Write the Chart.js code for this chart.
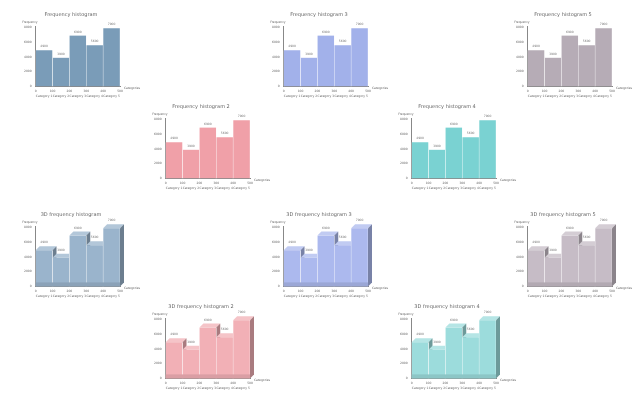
<!DOCTYPE html>
<html>
<head>
<meta charset="utf-8">
<script src="https://cdn.jsdelivr.net/npm/chart.js@4"></script>
<style>
  body { margin: 0; background: #fff; width: 640px; height: 405px; position: relative; overflow: hidden; }
  .box { position: absolute; width: 140px; height: 98px; }
</style>
</head>
<body>
<script>
// 数据
const categories = ['Category 1', 'Category 2', 'Category 3', 'Category 4', 'Category 5'];
const values = [4900, 3900, 6900, 5600, 7900];
const edgeLabels = ['0', '100', '200', '300', '400', '500'];
const yTicks = [0, 2000, 4000, 6000, 8000];

const charts = [
  { title: 'Frequency histogram', color: '#7a9cb8', x: 2, y: 8, d3: false },
  { title: 'Frequency histogram 3', color: '#a2b1ea', x: 250, y: 8, d3: false },
  { title: 'Frequency histogram 5', color: '#b6acb6', x: 494, y: 8, d3: false },
  { title: 'Frequency histogram 2', color: '#f0a0a8', x: 132, y: 100, d3: false },
  { title: 'Frequency histogram 4', color: '#7ad2d2', x: 378, y: 100, d3: false },
  { title: '3D frequency histogram', color: '#9ab4cc', x: 2, y: 208, d3: true },
  { title: '3D frequency histogram 3', color: '#acb9ee', x: 250, y: 208, d3: true },
  { title: '3D frequency histogram 5', color: '#c6bcc6', x: 494, y: 208, d3: true },
  { title: '3D frequency histogram 2', color: '#f2b0b6', x: 132, y: 300, d3: true },
  { title: '3D frequency histogram 4', color: '#9cdcdc', x: 378, y: 300, d3: true }
];

function shade(hex, f) {
  const n = parseInt(hex.slice(1), 16);
  let r = n >> 16, g = (n >> 8) & 255, b = n & 255;
  const m = v => Math.max(0, Math.min(255, Math.round(f < 0 ? v * (1 + f) : v + (255 - v) * f)));
  return `rgb(${m(r)},${m(g)},${m(b)})`;
}

// 坐标轴标题、边界数字、数值标签、3D 面
const decor = {
  id: 'decor',
  beforeDatasetsDraw(chart, args, opts) {
    if (!opts.d3) return;
    const ctx = chart.ctx;
    const meta = chart.getDatasetMeta(0);
    const dx = 4, dy = 4;
    ctx.save();
    meta.data.forEach(bar => {
      const l = bar.x - bar.width / 2, r = bar.x + bar.width / 2;
      ctx.fillStyle = shade(opts.color, 0.25);
      ctx.beginPath();
      ctx.moveTo(l, bar.y); ctx.lineTo(l + dx, bar.y - dy); ctx.lineTo(r + dx, bar.y - dy); ctx.lineTo(r, bar.y);
      ctx.fill();
      ctx.fillStyle = shade(opts.color, -0.3);
      ctx.beginPath();
      ctx.moveTo(r, bar.y); ctx.lineTo(r + dx, bar.y - dy); ctx.lineTo(r + dx, bar.base - dy); ctx.lineTo(r, bar.base);
      ctx.fill();
    });
    ctx.restore();
  },
  afterDatasetsDraw(chart, args, opts) {
    const ctx = chart.ctx;
    const meta = chart.getDatasetMeta(0);
    const a = chart.chartArea;
    ctx.save();
    ctx.font = '3px "DejaVu Sans"';
    ctx.fillStyle = '#777';
    ctx.textAlign = 'center';
    meta.data.forEach((bar, i) => {
      ctx.fillText(values[i], bar.x, bar.y - (opts.d3 ? 7 : 3));
    });
    if (opts.d3) {
      ctx.fillStyle = shade(opts.color, -0.1);
      ctx.fillRect(a.left, a.bottom - 4, a.right - a.left, 4);
    }
    ctx.fillStyle = '#666';
    const n = edgeLabels.length;
    edgeLabels.forEach((t, i) => {
      ctx.fillText(t, a.left + (a.right - a.left) * i / (n - 1), a.bottom + 6);
    });
    ctx.textAlign = 'left';
    ctx.fillText('Categories', a.right + 4, a.bottom + 3);
    ctx.textAlign = 'right';
    ctx.fillText('Frequency', a.left + 2, a.top - 3);
    ctx.restore();
  }
};

charts.forEach(c => {
  const div = document.createElement('div');
  div.className = 'box';
  div.style.left = c.x + 'px';
  div.style.top = c.y + 'px';
  const cv = document.createElement('canvas');
  div.appendChild(cv);
  document.body.appendChild(div);

  new Chart(cv, {
    type: 'bar',
    data: {
      labels: categories,
      datasets: [{
        data: values,
        backgroundColor: c.color,
        borderColor: '#ffffff',
        borderWidth: { left: 0.5, right: 0.5 },
        barPercentage: 1,
        categoryPercentage: 1
      }]
    },
    options: {
      responsive: true,
      maintainAspectRatio: false,
      animation: false,
      layout: { padding: { left: 20, right: 22, top: 2, bottom: 0 } },
      plugins: {
        legend: { display: false },
        tooltip: { enabled: false },
        title: { display: true, text: c.title, color: '#666', font: { size: 5, weight: 'normal', family: 'DejaVu Sans' }, padding: { top: 2, bottom: 8 } },
        decor: { d3: c.d3, color: c.color }
      },
      scales: {
        x: {
          grid: { display: false, drawTicks: false },
          border: { color: '#888' },
          ticks: { color: '#666', font: { size: 3, family: 'DejaVu Sans' }, padding: 8, maxRotation: 0, autoSkip: false }
        },
        y: {
          min: 0, max: 8200,
          afterBuildTicks: axis => { axis.ticks = yTicks.map(v => ({ value: v })); },
          grid: { display: false, drawTicks: true, tickLength: 2 },
          border: { color: '#888' },
          ticks: { color: '#666', font: { size: 3, family: 'DejaVu Sans' }, padding: 2, callback: v => String(v) }
        }
      }
    },
    plugins: [decor]
  });
});
</script>
</body>
</html>
